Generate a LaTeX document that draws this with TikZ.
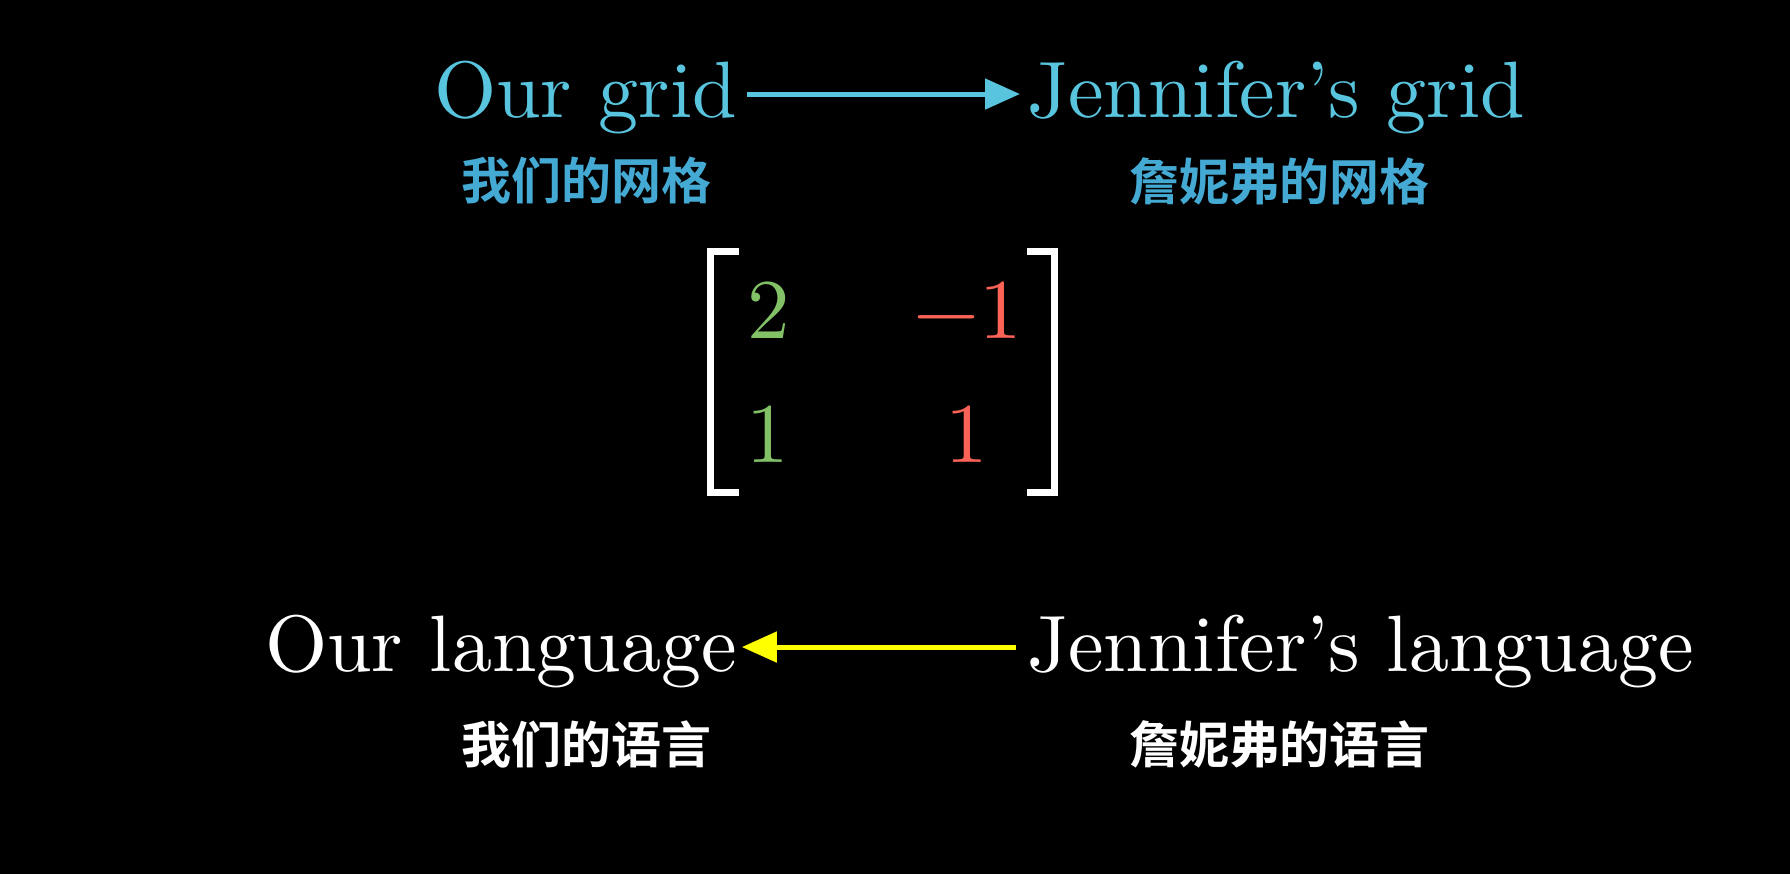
\documentclass[tikz,border=0pt]{standalone}
\usepackage{fontspec}
\newfontfamily\cjk{Noto Sans CJK SC}[BoldFont={* Bold}]
\newfontfamily\lmten{lmroman10-regular.otf}[Ligatures=TeX]
\usetikzlibrary{arrows.meta}
\definecolor{mblue}{HTML}{58C4DD}
\definecolor{zhblue}{HTML}{44AAD4}
\definecolor{mgreen}{HTML}{83C167}
\definecolor{mred}{HTML}{FC6255}
\definecolor{myellow}{HTML}{FFFF00}
\tikzset{
  big/.style={inner sep=0pt, anchor=base west, font=\lmten\fontsize{80}{96}\selectfont},
  zh/.style={inner sep=0pt, anchor=center, font=\cjk\bfseries\fontsize{50}{60}\selectfont},
  ent/.style={inner sep=0pt, anchor=base, font=\lmten\fontsize{85}{100}\selectfont},
  arr/.style={line width=5pt, -{Triangle[length=35pt,width=30pt]}},
  brk/.style={draw=white, line width=7pt, miter limit=10}
}
\begin{document}
\begin{tikzpicture}[x=1pt,y=-1pt]
\fill[black] (0,0) rectangle (1790,874);
\useasboundingbox (0,0) rectangle (1790,874);
% top row
\node[big, text=mblue] (ourgrid) at (434,118) {Our grid};
\node[big, text=mblue] (jgrid) at (1027,118) {Jennifer's grid};
\draw[arr, mblue] ([xshift=10pt,yshift=4pt]ourgrid.east) -- ([xshift=-7pt,yshift=4pt]jgrid.west);
\node[zh, text=zhblue] (ourgridzh) at (586,181) {我们的网格};
\node[zh, text=zhblue] (jgridzh) at (1279,181) {詹妮弗的网格};
% matrix
\draw[brk] (739,251.5) -- (710,251.5) -- (710,492.5) -- (739,492.5);
\draw[brk] (1027,251.5) -- (1054.5,251.5) -- (1054.5,492.5) -- (1027,492.5);
\node[ent, text=mgreen] (m11) at (768.5,338) {2};
\node[ent, text=mred] (m12) at (967.5,338) {−1};
\node[ent, text=mgreen] (m21) at (767.5,462) {1};
\node[ent, text=mred] (m22) at (967,462) {1};
% bottom row
\node[big, text=white] (ourlang) at (265,671) {Our language};
\node[big, text=white] (jlang) at (1027,671) {Jennifer's language};
\draw[arr, myellow] ([xshift=-11pt,yshift=4pt]jlang.west) -- ([xshift=5pt,yshift=4pt]ourlang.east);
\node[zh, text=white] (ourlangzh) at (586,744) {我们的语言};
\node[zh, text=white] (jlangzh) at (1279,744) {詹妮弗的语言};
\end{tikzpicture}
\end{document}
